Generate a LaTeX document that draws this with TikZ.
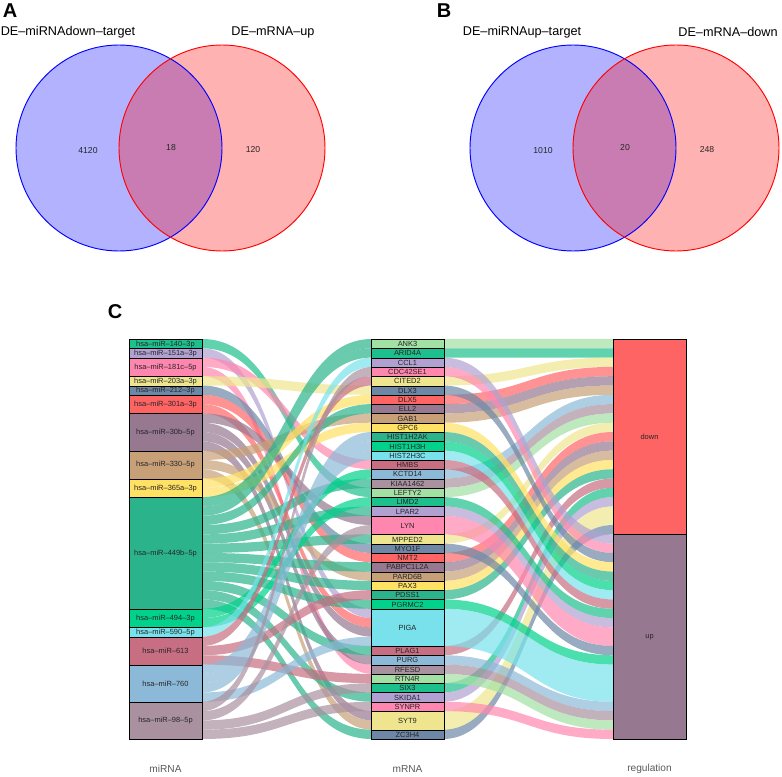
\documentclass[tikz,border=0pt]{standalone}
\usepackage{fontspec}
\setmainfont{Liberation Sans}

% palette of the alluvial plot
\definecolor{c0}{HTML}{A3E0A3}
\definecolor{c1}{HTML}{1DBF8C}
\definecolor{c2}{HTML}{B1A1D2}
\definecolor{c3}{HTML}{FF87AF}
\definecolor{c4}{HTML}{EFE58E}
\definecolor{c5}{HTML}{6E87A6}
\definecolor{c6}{HTML}{FF6464}
\definecolor{c7}{HTML}{967891}
\definecolor{c8}{HTML}{C8A078}
\definecolor{c9}{HTML}{FFE164}
\definecolor{c10}{HTML}{2BB48C}
\definecolor{c11}{HTML}{00D28C}
\definecolor{c12}{HTML}{78E1EB}
\definecolor{c13}{HTML}{C86E82}
\definecolor{c14}{HTML}{8CB9D7}
\definecolor{c15}{HTML}{AA91A0}

\newcommand{\slotpx}{9.3023}
% band of #5 slots from x=#1 to x=#2, slot #3 on the left to slot #4 on the right
\newcommand{\flowband}[6]{%
  \pgfmathsetmacro{\ya}{339+#3*\slotpx}
  \pgfmathsetmacro{\yb}{339+#4*\slotpx}
  \pgfmathsetmacro{\yc}{339+(#4+#5)*\slotpx}
  \pgfmathsetmacro{\yd}{339+(#3+#5)*\slotpx}
  \pgfmathsetmacro{\xm}{(#1+#2)/2}
  \fill[#6, flowfill] (#1,\ya) .. controls (\xm,\ya) and (\xm,\yb) .. (#2,\yb)
    -- (#2,\yc) .. controls (\xm,\yc) and (\xm,\yd) .. (#1,\yd) -- cycle;}

\begin{document}
\begin{tikzpicture}[x=0.75pt,y=-0.75pt,
    stratum/.style={draw=black, line width=0.7pt, minimum width=54.75pt, inner sep=0pt,
      font=\fontsize{5.6}{6}\selectfont, text=black!85},
    flowfill/.style={fill opacity=0.7},
    panel/.style={font=\fontsize{15}{15}\selectfont\bfseries},
    setname/.style={font=\fontsize{9.5}{11}\selectfont},
    count/.style={font=\fontsize{6.5}{7}\selectfont, text=black!85},
    axisname/.style={font=\fontsize{7.6}{8}\selectfont, text=black!65}]
    \useasboundingbox (0,0) rectangle (782,777);

    % panel A
    \node[panel] (pA) at (10,11) {A};
    \fill[blue, opacity=0.3] (119,148) circle[radius=77.25pt];
    \fill[red, opacity=0.3] (222,148) circle[radius=77.25pt];
    \draw[blue, line width=0.7pt] (119,148) circle[radius=77.25pt];
    \draw[red, line width=0.7pt] (222,148) circle[radius=77.25pt];
    \node[setname] (a1) at (68,32) {DE–miRNAdown–target};
    \node[setname] (a2) at (273,32) {DE–mRNA–up};
    \node[count] (n1) at (88,151) {4120};
    \node[count] (n2) at (171,148) {18};
    \node[count] (n3) at (253,150) {120};

    % panel B
    \node[panel] (pB) at (444,11) {B};
    \fill[blue, opacity=0.3] (573,148) circle[radius=77.25pt];
    \fill[red, opacity=0.3] (676,148) circle[radius=77.25pt];
    \draw[blue, line width=0.7pt] (573,148) circle[radius=77.25pt];
    \draw[red, line width=0.7pt] (676,148) circle[radius=77.25pt];
    \node[setname] (b1) at (522,32) {DE–miRNAup–target};
    \node[setname] (b2) at (728,32) {DE–mRNA–down};
    \node[count] (n4) at (543,151) {1010};
    \node[count] (n5) at (625,148) {20};
    \node[count] (n6) at (707,150) {248};

    % panel C
    \node[panel] (pC) at (115,312) {C};

    % flows miRNA -> mRNA, coloured by the miRNA
    \foreach \s/\t/\col in {0/16/c1, 1/29/c2, 2/13/c3, 3/35/c3, 4/5/c4, 5/22/c5,
        6/23/c6, 7/30/c6, 8/19/c7, 9/31/c7, 10/34/c7, 11/40/c7,
        12/8/c8, 13/25/c8, 14/41/c8, 15/6/c9, 16/9/c9,
        17/0/c10, 18/1/c10, 19/7/c10, 20/15/c10, 21/18/c10, 22/21/c10,
        23/24/c10, 24/26/c10, 25/28/c10, 26/33/c10, 27/38/c10, 28/42/c10,
        29/14/c11, 30/17/c11, 31/2/c12, 32/4/c13, 33/27/c13, 34/36/c13,
        35/10/c14, 36/11/c14, 37/12/c14, 38/32/c14,
        39/3/c15, 40/20/c15, 41/37/c15, 42/39/c15}
      \flowband{202}{372}{\s}{\t}{1}{\col};

    % flows mRNA -> regulation, coloured by the mRNA
    \foreach \s/\t/\n/\col in {0/0/1/c0, 1/1/1/c1, 4/2/1/c4, 6/3/1/c6, 7/4/1/c7,
        8/5/1/c8, 14/6/1/c14, 15/7/1/c15, 16/8/1/c0, 21/9/1/c4, 23/10/1/c6,
        24/11/1/c7, 25/12/1/c8, 26/13/1/c9, 27/14/1/c10, 33/15/1/c13,
        37/16/1/c1, 38/17/1/c2, 40/18/2/c4, 42/20/1/c5,
        2/21/1/c2, 3/22/1/c3, 5/23/1/c5, 9/24/1/c9, 10/25/1/c10, 11/26/1/c11,
        12/27/1/c12, 13/28/1/c13, 17/29/1/c1, 18/30/1/c2, 19/31/2/c3,
        22/33/1/c5, 28/34/1/c11, 29/35/4/c12, 34/39/1/c14, 35/40/1/c15,
        36/41/1/c0, 39/42/1/c3}
      \flowband{443}{613}{\s}{\t}{\n}{\col};

    % miRNA strata
    \foreach \lab/\s/\n/\col in {hsa–miR–140–3p/0/1/c1, hsa–miR–151a–3p/1/1/c2,
        hsa–miR–181c–5p/2/2/c3, hsa–miR–203a–3p/4/1/c4, hsa–miR–212–3p/5/1/c5,
        hsa–miR–301a–3p/6/2/c6, hsa–miR–30b–5p/8/4/c7, hsa–miR–330–5p/12/3/c8,
        hsa–miR–365a–3p/15/2/c9, hsa–miR–449b–5p/17/12/c10, hsa–miR–494–3p/29/2/c11,
        hsa–miR–590–5p/31/1/c12, hsa–miR–613/32/3/c13, hsa–miR–760/35/4/c14,
        hsa–miR–98–5p/39/4/c15}
      \node[stratum, fill=\col, minimum height=\n*6.9767pt, anchor=north]
        (mir\s) at (165.5,{339+\s*\slotpx}) {\lab};

    % mRNA strata
    \foreach \lab/\s/\n/\col in {ANK3/0/1/c0, ARID4A/1/1/c1, CCL1/2/1/c2,
        CDC42SE1/3/1/c3, CITED2/4/1/c4, DLX3/5/1/c5, DLX5/6/1/c6, ELL2/7/1/c7,
        GAB1/8/1/c8, GPC6/9/1/c9, HIST1H2AK/10/1/c10, HIST1H3H/11/1/c11,
        HIST2H3C/12/1/c12, HMBS/13/1/c13, KCTD14/14/1/c14, KIAA1462/15/1/c15,
        LEFTY2/16/1/c0, LIMD2/17/1/c1, LPAR2/18/1/c2, LYN/19/2/c3,
        MPPED2/21/1/c4, MYO1F/22/1/c5, NMT2/23/1/c6, PABPC1L2A/24/1/c7,
        PARD6B/25/1/c8, PAX3/26/1/c9, PDSS1/27/1/c10, PGRMC2/28/1/c11,
        PIGA/29/4/c12, PLAG1/33/1/c13, PURG/34/1/c14, RFESD/35/1/c15,
        RTN4R/36/1/c0, SIX3/37/1/c1, SKIDA1/38/1/c2, SYNPR/39/1/c3,
        SYT9/40/2/c4, ZC3H4/42/1/c5}
      \node[stratum, fill=\col, minimum height=\n*6.9767pt, anchor=north]
        (gene\s) at (407.5,{339+\s*\slotpx}) {\lab};

    % regulation strata
    \node[stratum, fill=c6, minimum height=21*6.9767pt, anchor=north] (down) at (649.5,339) {down};
    \node[stratum, fill=c7, minimum height=22*6.9767pt, anchor=north] (up) at (649.5,{339+21*\slotpx}) {up};

    % axis names
    \node[axisname] (xmir) at (165.5,769) {miRNA};
    \node[axisname] (xgene) at (407.5,769) {mRNA};
    \node[axisname] (xreg) at (649.5,769) {regulation};
\end{tikzpicture}
\end{document}
